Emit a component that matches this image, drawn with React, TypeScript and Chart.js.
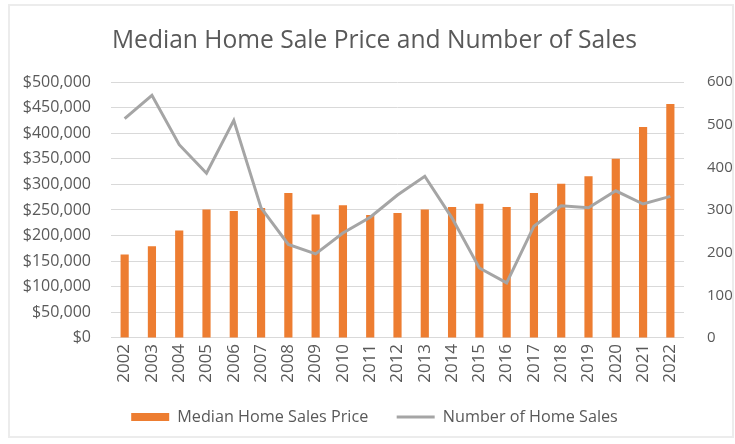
import React, { useEffect, useRef } from "react";
import { Chart, registerables } from "chart.js";

Chart.register(...registerables);

const years = ["2002","2003","2004","2005","2006","2007","2008","2009","2010","2011","2012","2013","2014","2015","2016","2017","2018","2019","2020","2021","2022"];
const medianPrice = [163000,179000,210000,251000,248000,254000,283000,241000,259000,240000,244000,251000,256000,262000,256000,283000,301000,316000,350000,412000,457000];
const homeSales = [514,569,453,386,510,305,219,197,246,283,335,379,281,164,129,262,310,305,345,314,332];
const priceTicksMax = 500000;
const salesTicksMax = 600;

const FONT = "'Open Sans', sans-serif";
const TEXT = "#595959";

export default function App() {
  const ref = useRef<HTMLCanvasElement | null>(null);
  useEffect(() => {
    document.body.style.margin = "0";
    const ctx = ref.current!;
    const chart = new Chart(ctx, {
      type: "bar",
      data: {
        labels: years,
        datasets: [
          {
            type: "bar",
            label: "Median Home Sales Price",
            data: medianPrice,
            backgroundColor: "#ED7D31",
            borderWidth: 0,
            yAxisID: "y",
            categoryPercentage: 1,
            barPercentage: 0.3,
            order: 2,
          },
          {
            type: "line",
            label: "Number of Home Sales",
            data: homeSales,
            borderColor: "#A5A5A5",
            backgroundColor: "#A5A5A5",
            borderWidth: 3,
            pointRadius: 0,
            tension: 0,
            yAxisID: "y1",
            order: 1,
          },
        ],
      },
      options: {
        animation: false,
        responsive: false,
        maintainAspectRatio: false,
        layout: { padding: { left: 14, right: 0, top: 0, bottom: 9 } },
        plugins: {
          title: {
            display: true,
            text: "Median Home Sale Price and Number of Sales",
            color: TEXT,
            font: { family: FONT, size: 24.6, weight: "normal" },
            padding: { top: 26, bottom: 26.5 },
          },
          legend: {
            position: "bottom",
            labels: {
              usePointStyle: true,
              pointStyleWidth: 38,
              boxHeight: 8,
              padding: 20,
              color: TEXT,
              font: { family: FONT, size: 16.2 },
              sort: (a: any, b: any) => a.datasetIndex - b.datasetIndex,
              generateLabels: (c: any) => {
                const items = Chart.defaults.plugins.legend.labels.generateLabels(c);
                return items.map((it: any) => {
                  if (it.datasetIndex === 0) {
                    return { ...it, text: it.text + "  ", pointStyle: "rect", lineWidth: 0, strokeStyle: "#ED7D31" };
                  }
                  return { ...it, pointStyle: "line", lineWidth: 3, strokeStyle: "#A5A5A5" };
                });
              },
            },
          },
          tooltip: { enabled: false },
        },
        scales: {
          x: {
            grid: { display: false, drawTicks: false },
            border: { display: false },
            ticks: {
              color: TEXT,
              font: { family: FONT, size: 17 },
              minRotation: 90,
              maxRotation: 90,
              autoSkip: false,
              padding: 6,
            },
          },
          y: {
            position: "left",
            min: 0,
            max: priceTicksMax,
            grid: { color: "#d9d9d9", drawTicks: false, lineWidth: 1 },
            border: { display: false },
            afterFit: (s: any) => { s.width = 97; },
            ticks: {
              stepSize: 50000,
              color: TEXT,
              font: { family: FONT, size: 16 },
              padding: 20,
              callback: (v: any) => "$" + Number(v).toLocaleString("en-US"),
            },
          },
          y1: {
            position: "right",
            min: 0,
            max: salesTicksMax,
            grid: { display: false, drawTicks: false },
            border: { display: false },
            afterFit: (s: any) => { s.width = 51; },
            ticks: {
              stepSize: 100,
              color: TEXT,
              font: { family: FONT, size: 15 },
              padding: 23,
            },
          },
        },
      },
    });
    return () => chart.destroy();
  }, []);

  return (
    <div style={{ position: "relative", width: 735, height: 444, background: "#fff" }}>
      <div
        style={{
          position: "absolute",
          left: 8,
          top: 4,
          width: 726,
          height: 434,
          border: "2px solid #ececec",
          boxSizing: "border-box",
          pointerEvents: "none",
        }}
      />
      <canvas ref={ref} width={735} height={444} style={{ display: "block" }} />
    </div>
  );
}
